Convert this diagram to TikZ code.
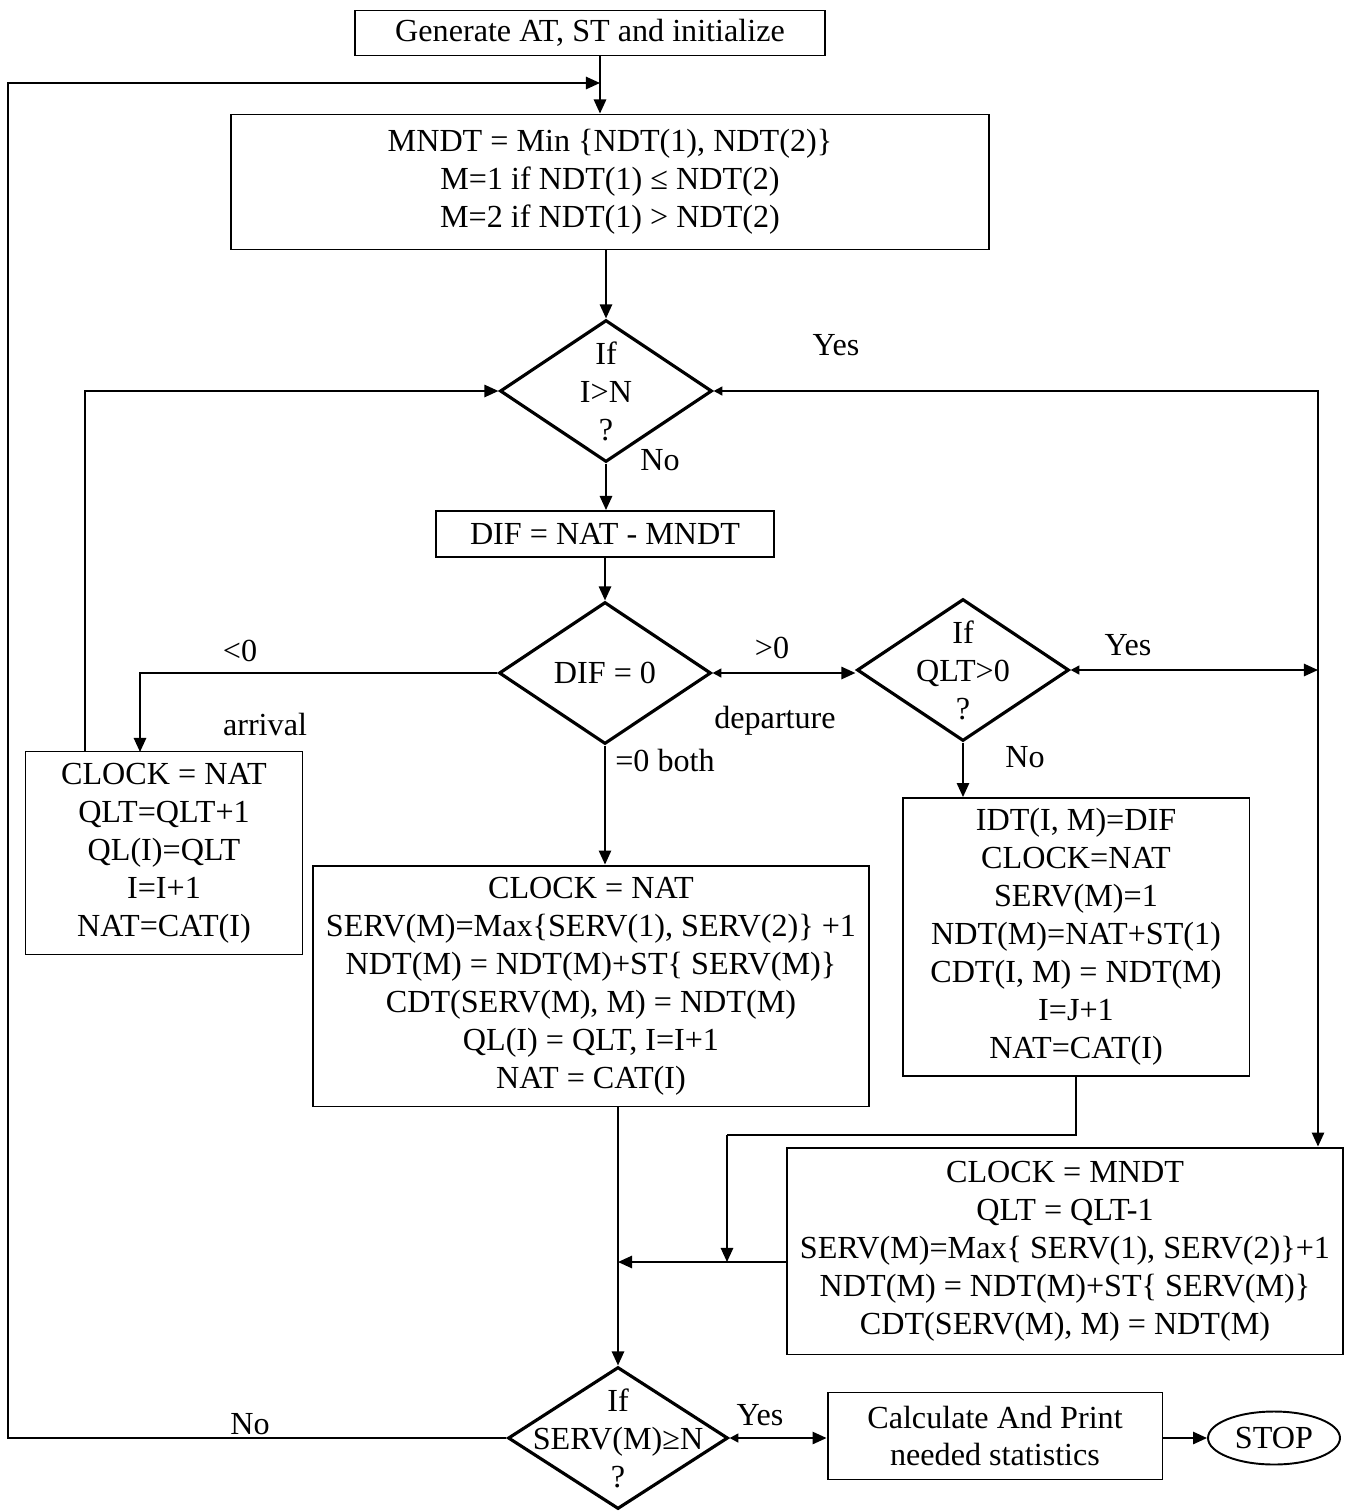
\documentclass[tikz,border=0pt]{standalone}
\usepackage{fontspec}
\setmainfont{Liberation Serif}
\usetikzlibrary{shapes.geometric,arrows.meta}

\begin{document}
\begin{tikzpicture}[x=0.02cm, y=-0.02cm, ->, >={Triangle[length=8pt,width=7pt]}, line width=1.1pt,
    font=\fontsize{18.3}{21.6}\selectfont]
  \tikzstyle{block}=[draw, rectangle, align=center, inner sep=1pt]
  \tikzstyle{decision}=[draw, diamond, line width=1.8pt, inner sep=0pt, minimum width=4.24cm, minimum height=2.84cm]
  \tikzstyle{terminal}=[draw, ellipse, inner sep=0pt, minimum width=2.64cm, minimum height=1.06cm]
  \tikzstyle{tick}=[{Triangle[length=5pt,width=5pt]}-]
  \tikzstyle{tick both}=[{Triangle[length=5pt,width=5pt]}->]
  \tikzstyle{annot}=[inner sep=0pt]

  \useasboundingbox (0,0) rectangle (1350,1512);

  % boxes
  \node[block, minimum width=9.42cm, minimum height=0.9cm] (init) at (590,33) {Generate AT, ST and initialize};
  \node[block, minimum width=15.18cm, minimum height=2.7cm] (mndt) at (610,182) {MNDT = Min \{NDT(1), NDT(2)\}\\M=1 if NDT(1) ≤ NDT(2)\\M=2 if NDT(1) > NDT(2)};
  \node[block, minimum width=6.76cm, minimum height=0.92cm] (dif) at (605,534) {DIF = NAT - MNDT};
  \node[block, minimum width=5.54cm, minimum height=4.06cm] (arrive) at (164,853) {CLOCK = NAT\\QLT=QLT+1\\QL(I)=QLT\\I=I+1\\NAT=CAT(I)};
  \node[block, minimum width=11.14cm, minimum height=4.82cm] (both) at (591,986) {CLOCK = NAT\\SERV(M)=Max\{SERV(1), SERV(2)\} +1\\NDT(M) = NDT(M)+ST\{ SERV(M)\}\\CDT(SERV(M), M) = NDT(M)\\QL(I) = QLT, I=I+1\\NAT = CAT(I)};
  \node[block, minimum width=6.94cm, minimum height=5.56cm] (depart) at (1076,937) {IDT(I, M)=DIF\\CLOCK=NAT\\SERV(M)=1\\NDT(M)=NAT+ST(1)\\CDT(I, M) = NDT(M)\\I=J+1\\NAT=CAT(I)};
  \node[block, minimum width=11.12cm, minimum height=4.14cm] (queue) at (1065,1251) {CLOCK = MNDT\\QLT = QLT-1\\SERV(M)=Max\{ SERV(1), SERV(2)\}+1\\NDT(M) = NDT(M)+ST\{ SERV(M)\}\\CDT(SERV(M), M) = NDT(M)};
  \node[block, minimum width=6.7cm, minimum height=1.74cm] (calc) at (995,1436) {Calculate And Print\\needed statistics};
  \node[terminal] (stop) at (1274,1438) {STOP};

  % decisions
  \node[decision, label={[align=center]center:{If\\I>N\\?}}] (d1) at (606,391) {};
  \node[decision, label={[align=center]center:{DIF = 0}}] (d2) at (605,673) {};
  \node[decision, label={[align=center]center:{If\\QLT>0\\?}}] (d3) at (963,670) {};
  \node[decision, minimum width=4.4cm, label={[align=center]center:{If\\SERV(M)≥N\\?}}] (d4) at (618,1438) {};

  % helper points
  \coordinate (loop) at (600,83);
  \coordinate (left edge) at (8,83);
  \coordinate (rail) at (1318,390);
  \coordinate (arr in) at (140,752);
  \coordinate (back) at (85,397);
  \coordinate (join) at (727,1135);
  \coordinate (merge) at (618,1262);

  % connectors
  \draw (d4.west) -- (d4.west -| left edge) -- (left edge) -- (loop);
  \draw (init.south -| loop) -- (mndt.north -| loop);
  \draw (mndt.south -| d1.north) -- (d1.north);
  \draw (d1.south) -- (dif.north -| d1.south);
  \draw (dif.south -| d2.north) -- (d2.north);
  \draw (d2.west) -| (arr in);
  \draw (arrive.north -| back) |- (d1.west);
  \draw[tick both] (d2.east) -- (d2.east -| d3.west);
  \draw[tick both] (d3.east) -- (d3.east -| rail);
  \draw[tick both] (d1.east) -| (queue.north -| rail);
  \draw (d2.south) -- (both.north -| d2.south);
  \draw (d3.south) -- (depart.north -| d3.south);
  \draw[-] (depart.south) |- (join);
  \draw (join) -- (join |- merge);
  \draw (queue.west |- merge) -- (merge);
  \draw (both.south -| d4.north) -- (d4.north);
  \draw[tick both] (d4.east) -- (d4.east -| calc.west);
  \draw (calc.east |- stop.west) -- (stop.west);

  % labels
  \node[annot] (yes1) at (836,345) {Yes};
  \node[annot] (no1) at (660,460) {No};
  \node[annot] (neg) at (240,651) {<0};
  \node[annot] (arrival) at (265,724) {arrival};
  \node[annot] (pos) at (772,648) {>0};
  \node[annot] (departure) at (775,721) {departure};
  \node[annot] (zero) at (665,760) {=0 both};
  \node[annot] (yes2) at (1128,645) {Yes};
  \node[annot] (no2) at (1025,757) {No};
  \node[annot] (yes3) at (760,1415) {Yes};
  \node[annot] (no3) at (250,1424) {No};
\end{tikzpicture}
\end{document}
